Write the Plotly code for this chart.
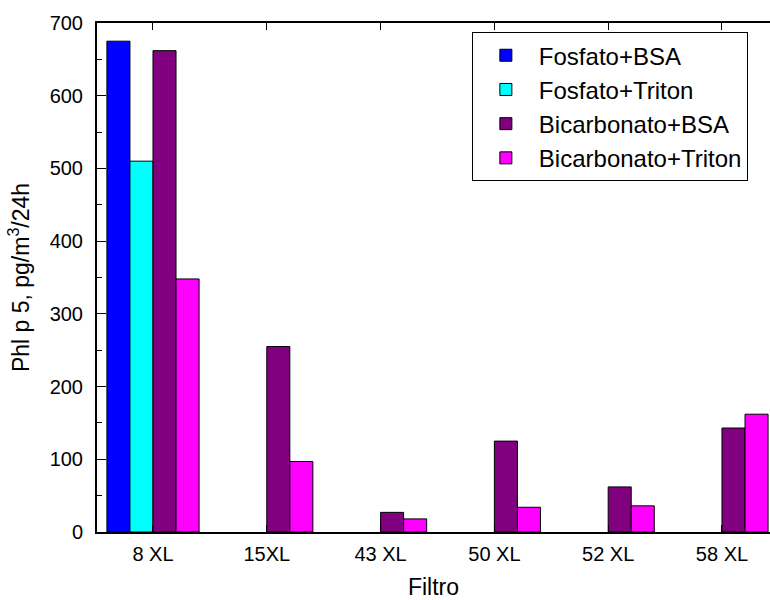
import plotly.graph_objects as go

categories = ["8 XL", "15XL", "43 XL", "50 XL", "52 XL", "58 XL"]
fosfato_bsa = [675, None, None, None, None, None]
fosfato_triton = [510, None, None, None, None, None]
bicarbonato_bsa = [662, 255, 27, 125, 62, 143]
bicarbonato_triton = [348, 97, 18, 34, 36, 162]

series = [
    ("Fosfato+BSA", fosfato_bsa, "#0000FF"),
    ("Fosfato+Triton", fosfato_triton, "#00FFFF"),
    ("Bicarbonato+BSA", bicarbonato_bsa, "#800080"),
    ("Bicarbonato+Triton", bicarbonato_triton, "#FF00FF"),
]

fig = go.Figure()
for name, vals, col in series:
    fig.add_trace(go.Bar(
        x=categories, y=vals, name=name,
        marker=dict(color=col, line=dict(color="black", width=1)),
    ))

font = dict(family="Arial, Liberation Sans, sans-serif", color="black")

fig.update_layout(
    width=770, height=600,
    margin=dict(l=97, r=0, t=23, b=68, autoexpand=False),
    paper_bgcolor="white", plot_bgcolor="white",
    barmode="group", bargap=0.19, bargroupgap=0,
    font=dict(**font, size=21),
    showlegend=True,
    legend=dict(
        x=0.557, y=0.982, xanchor="left", yanchor="top",
        bordercolor="black", borderwidth=1, bgcolor="white",
        font=dict(**font, size=24), tracegroupgap=0,
        itemwidth=56,
    ),
    xaxis=dict(
        range=[-0.492, 5.422], automargin=False,
        showline=True, linecolor="black", linewidth=2,
        mirror="ticks", ticks="inside", ticklen=7, tickcolor="black",
        tickfont=dict(**font, size=20), ticklabelstandoff=3,
        title=dict(text="Filtro", font=dict(**font, size=23), standoff=22),
        showgrid=False,
    ),
    yaxis=dict(
        range=[0, 700], dtick=100, automargin=False,
        showline=True, linecolor="black", linewidth=2,
        ticks="inside", ticklen=9, tickcolor="black",
        minor=dict(ticks="inside", ticklen=5, dtick=50, tickcolor="black"),
        tickfont=dict(**font, size=20), ticklabelstandoff=8,
        title=dict(text="Phl p 5, pg/m<sup>3</sup>/24h", font=dict(**font, size=23), standoff=14),
        showgrid=False, zeroline=False,
    ),
)

fig.write_html("out.html")
